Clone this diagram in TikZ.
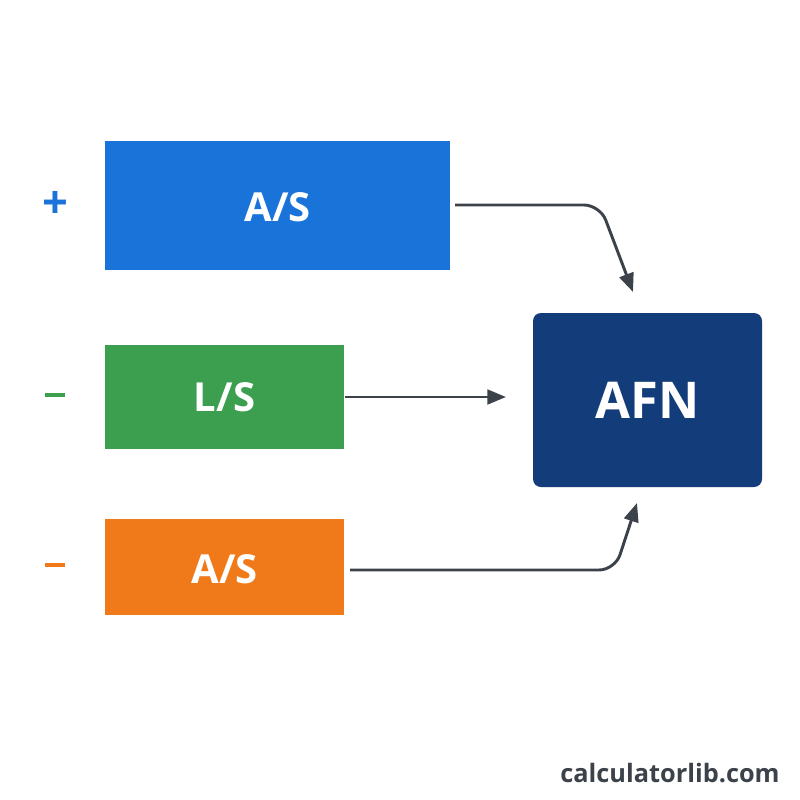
\documentclass[tikz,border=0pt]{standalone}
\usepackage{fontspec}
\setmainfont{Open Sans}
\usetikzlibrary{arrows.meta}
\definecolor{cblue}{HTML}{1A73D9}
\definecolor{cgreen}{HTML}{3B9F4F}
\definecolor{corange}{HTML}{F07A1A}
\definecolor{cnavy}{HTML}{133D7A}
\definecolor{cline}{HTML}{3C424A}
\begin{document}
\begin{tikzpicture}[x=0.75pt,y=-0.75pt,
  box/.style={inner sep=0pt,text=white,font=\fontsize{30}{30}\selectfont\bfseries},
  conn/.style={draw=cline,line width=2.2pt,-{Triangle[length=14pt,width=11pt]},rounded corners=12pt},
  sign/.style={font=\fontsize{34}{34}\selectfont\bfseries}]
\useasboundingbox (0,0) rectangle (800,800);
\fill[white] (0,0) rectangle (800,800);
\fill[cblue] (105,141) rectangle (450,270);
\node[box] (b1) at (277.5,207) {A/S};
\fill[cgreen] (105,345) rectangle (344,449);
\node[box] (b2) at (224.5,397) {L/S};
\fill[corange] (105,519) rectangle (344,615);
\node[box] (b3) at (224.5,569) {A/S};
\fill[cnavy,rounded corners=6pt] (533,313) rectangle (762,487);
\node[box,font=\fontsize{38}{38}\selectfont\bfseries] (afn) at (647.5,400) {AFN};
\node[sign,text=cblue] (s1) at (55,205) {+};
\node[sign,text=cgreen] (s2) at (55,395) {\rule{15pt}{2.6pt}};
\node[sign,text=corange] (s3) at (55,565) {\rule{15pt}{2.6pt}};
\coordinate (a1s) at (455,205);
\coordinate (a1e) at (633,292);
\draw[conn] (a1s) -- (600,205) -- (a1e);
\coordinate (a2s) at (345,397);
\coordinate (a2e) at (506,397);
\draw[conn] (a2s) -- (a2e);
\coordinate (a3s) at (350,570);
\coordinate (a3e) at (637,503);
\draw[conn] (a3s) -- (615,570) -- (a3e);
\node[text=cline,font=\fontsize{19}{19}\selectfont\bfseries] (logo) at (670,773) {calculatorlib.com};
\end{tikzpicture}
\end{document}
